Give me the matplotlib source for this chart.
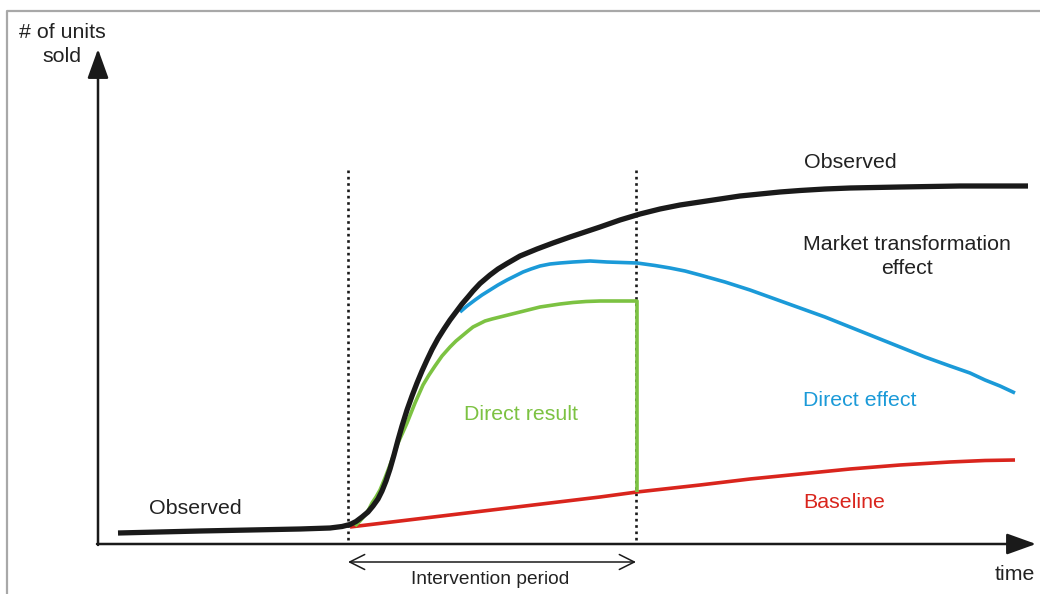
import matplotlib
matplotlib.use("Agg")
from matplotlib import pyplot as plt

#
# Data (pixel-like units: x right, y down)
#
observed_x = [118, 200, 300, 330, 342, 350, 356, 362, 368, 373, 378, 382, 386, 390, 394, 398,
              402, 407, 412, 417, 422, 427, 432, 438, 444, 450, 456, 462, 468, 473, 480,
              490, 498, 507, 520, 537, 553, 570, 585, 600, 620, 640, 660, 680, 700, 720,
              740, 760, 780, 800, 825, 850, 875, 900, 930, 960, 1000, 1028]
observed_y = [533, 531, 529, 528, 526.5, 524.5, 521.5, 517, 512, 506, 499, 491, 481, 469, 455, 440,
              426, 410, 396, 383, 371, 360, 349.5, 338.5, 329, 320, 312, 304, 297, 291, 283.5,
              275, 269, 263.5, 256, 249, 243, 237, 232, 227, 220, 214, 209, 205, 202, 199,
              196, 194, 192, 190.5, 189, 188, 187.5, 187, 186.5, 186, 186, 186]

market_x = [460, 467, 475, 482, 490, 498, 507, 515, 523, 531, 540, 550, 560, 573, 590, 607,
            622, 637, 655, 670, 685, 700, 725, 750, 775, 800, 825, 850, 875, 900, 925,
            950, 970, 985, 1000, 1015]
market_y = [312, 306, 300, 295, 290, 285, 280, 276, 272, 269, 266, 264, 263, 262, 261, 262,
            262.5, 263, 265.5, 268, 271, 275, 282, 290, 299, 308, 317, 327, 337, 347, 357,
            366, 373, 380, 386, 393]

direct_x = [355, 360, 365, 369, 372, 376, 380, 385, 390, 394, 398, 403, 407, 411, 415, 419,
            423, 429, 435, 442, 450, 456, 462, 468, 473, 479, 485, 492, 500, 510, 520, 530,
            540, 550, 560, 573, 586, 600, 618, 637, 637]
direct_y = [526, 521, 515, 509, 503, 497, 490, 478, 465, 454, 443, 432, 423, 413, 403, 394,
            385, 375, 366, 356, 347, 341, 336, 331, 327, 324, 321, 319, 317, 314.5, 312, 309.5,
            307, 305.5, 304, 302.5, 301.5, 301, 301, 301, 492]

baseline_x = [350, 400, 450, 500, 550, 600, 637, 700, 750, 800, 850, 900, 950, 985, 1015]
baseline_y = [527, 521, 515, 509, 503, 497, 492, 485, 479, 474, 469, 465, 462, 460.5, 460]

intervention = [348, 636]

#
# Plot
#
plt.rcParams['font.family'] = ['Liberation Sans', 'DejaVu Sans']
fig = plt.figure(figsize=(10.4, 5.94), dpi=100)
ax = fig.add_axes([0, 0, 1, 1])
ax.set_xlim(0, 1040)
ax.set_ylim(594, 0)
ax.axis('off')

# frame of the original picture
ax.plot([7, 7, 1040], [594, 11, 11], color='#a8a8a8', lw=1.6)

# axes with arrows
head = '-|>,head_length=1.0,head_width=0.36'
ax.annotate('', xy=(98, 49), xytext=(98, 545),
            arrowprops=dict(arrowstyle=head, lw=1.8, color='#1a1a1a', mutation_scale=18,
                            shrinkA=0, shrinkB=0))
ax.annotate('', xy=(1036, 544), xytext=(97, 544),
            arrowprops=dict(arrowstyle=head, lw=1.8, color='#1a1a1a', mutation_scale=18,
                            shrinkA=0, shrinkB=0))

# intervention period
for xv in intervention:
    ax.plot([xv, xv], [170, 542], color='#1a1a1a', lw=1.9, linestyle=(0, (1, 1.4)))
ax.annotate('', xy=(intervention[0], 562), xytext=(intervention[1], 562),
            arrowprops=dict(arrowstyle='<->,head_length=0.6,head_width=0.3',
                            lw=1.1, color='#1a1a1a', mutation_scale=18,
                            shrinkA=0, shrinkB=0))

# curves
ax.plot(baseline_x, baseline_y, color='#d9251d', lw=2.6, solid_capstyle='butt')
ax.plot(market_x, market_y, color='#1b9ad8', lw=2.6, solid_capstyle='butt')
ax.plot(direct_x, direct_y, color='#7cc242', lw=2.6, solid_capstyle='butt')
ax.plot(observed_x, observed_y, color='#1a1a1a', lw=3.8, solid_capstyle='butt',
        solid_joinstyle='round')

# labels
fs = 15.4
tc = '#222222'
ax.text(62, 33, '# of units', ha='center', va='center', fontsize=fs, color=tc)
ax.text(62, 57, 'sold', ha='center', va='center', fontsize=fs, color=tc)
ax.text(1015, 575, 'time', ha='center', va='center', fontsize=fs, color=tc)
ax.text(490, 580, 'Intervention period', ha='center', va='center', fontsize=13.8, color=tc)
ax.text(195, 508, 'Observed', ha='center', va='center', fontsize=fs, color=tc)
ax.text(850, 162, 'Observed', ha='center', va='center', fontsize=fs, color=tc)
ax.text(907, 245, 'Market transformation', ha='center', va='center', fontsize=fs, color=tc)
ax.text(907, 269, 'effect', ha='center', va='center', fontsize=fs, color=tc)
ax.text(860, 400, 'Direct effect', ha='center', va='center', fontsize=fs, color='#1b9ad8')
ax.text(844, 502, 'Baseline', ha='center', va='center', fontsize=fs, color='#d9251d')
ax.text(521, 414, 'Direct result', ha='center', va='center', fontsize=fs, color='#7cc242')

fig.savefig('out.png', dpi=100)
